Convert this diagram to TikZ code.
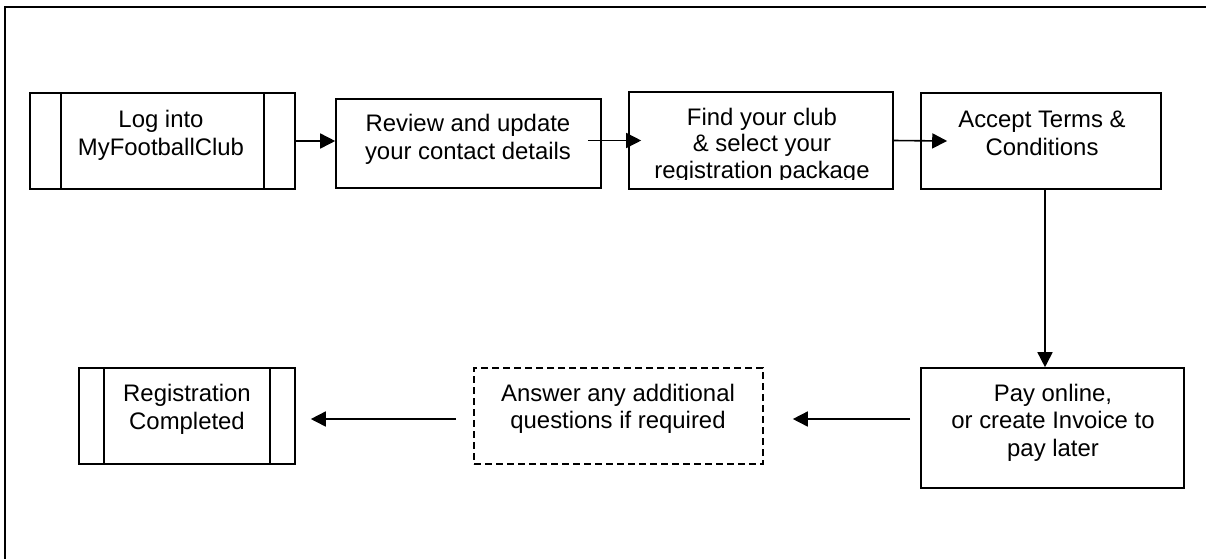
\documentclass[tikz,border=0pt]{standalone}
\usepackage{fontspec}
\setmainfont{Liberation Sans}
\usetikzlibrary{arrows.meta}
\begin{document}
\begin{tikzpicture}[x=1pt,y=-1pt,
  box/.style={draw, rectangle, inner sep=0pt, line width=1.6pt},
  dbox/.style={box, dash pattern=on 7pt off 4pt},
  txt/.style={align=center, inner sep=0pt, font=\fontsize{23.9}{28}\selectfont},
  arr/.style={-{Triangle[length=15pt,width=15pt]}, line width=1.6pt}]
\clip (0,0) rectangle (1206,558);
\draw[line width=1.6pt] (1220,7) -| (5,570);
% boxes
\node[box, minimum width=265pt, minimum height=96pt] (b1) at (162.5,141) {};
\draw[line width=1.6pt] ([xshift=32pt]b1.north west) -- ([xshift=32pt]b1.south west);
\draw[line width=1.6pt] ([xshift=-32pt]b1.north east) -- ([xshift=-32pt]b1.south east);
\node[box, minimum width=265pt, minimum height=89pt] (b2) at (468.5,143.5) {};
\node[box, minimum width=264pt, minimum height=97pt] (b3) at (761,140.5) {};
\node[box, minimum width=240pt, minimum height=96pt] (b4) at (1041,141) {};
\node[box, minimum width=263pt, minimum height=120pt] (b5) at (1052.5,428) {};
\node[dbox, minimum width=289pt, minimum height=96pt] (b6) at (618.5,416) {};
\node[box, minimum width=216pt, minimum height=96pt] (b7) at (187,416) {};
\draw[line width=1.6pt] ([xshift=26pt]b7.north west) -- ([xshift=26pt]b7.south west);
\draw[line width=1.6pt] ([xshift=-26pt]b7.north east) -- ([xshift=-26pt]b7.south east);
% texts
\node[txt] (t1) at (161,135) {Log into\\MyFootballClub};
\node[txt] (t2) at (468,139.5) {Review and update\\your contact details};
\begin{scope}
\clip (629,92) rectangle (893,179);
\node[txt, font=\fontsize{23.9}{26.5}\selectfont] (t3) at (762,145.5) {Find your club\\\& select your\\registration package};
\end{scope}
\node[txt] (t4) at (1042,133.5) {Accept Terms \&\\Conditions};
\node[txt, font=\fontsize{23.9}{27.5}\selectfont] (t5) at (1053,422.5) {Pay online,\\or create Invoice to\\pay later};
\node[txt, font=\fontsize{23.9}{27}\selectfont] (t6) at (618,408.5) {Answer any additional\\questions if required};
\node[txt] (t7) at (187,409) {Registration\\Completed};
% connectors
\draw[arr] (b1.east) -- (b1.east -| b2.west);
\draw[arr] ([xshift=-14pt]b2.east |- b3.west) -- ([xshift=13pt]b3.west);
\draw[arr] (b3.east) -- ([xshift=27pt]b4.west);
\draw[arr] ([xshift=4pt]b4.south) -- ([xshift=4pt]b4.south |- b5.north);
\draw[arr] ([shift={(-10,-9)}]b5.west) -- ([shift={(29,3)}]b6.east);
\draw[arr] ([shift={(-17,3)}]b6.west) -- ([shift={(15,3)}]b7.east);
\end{tikzpicture}
\end{document}
